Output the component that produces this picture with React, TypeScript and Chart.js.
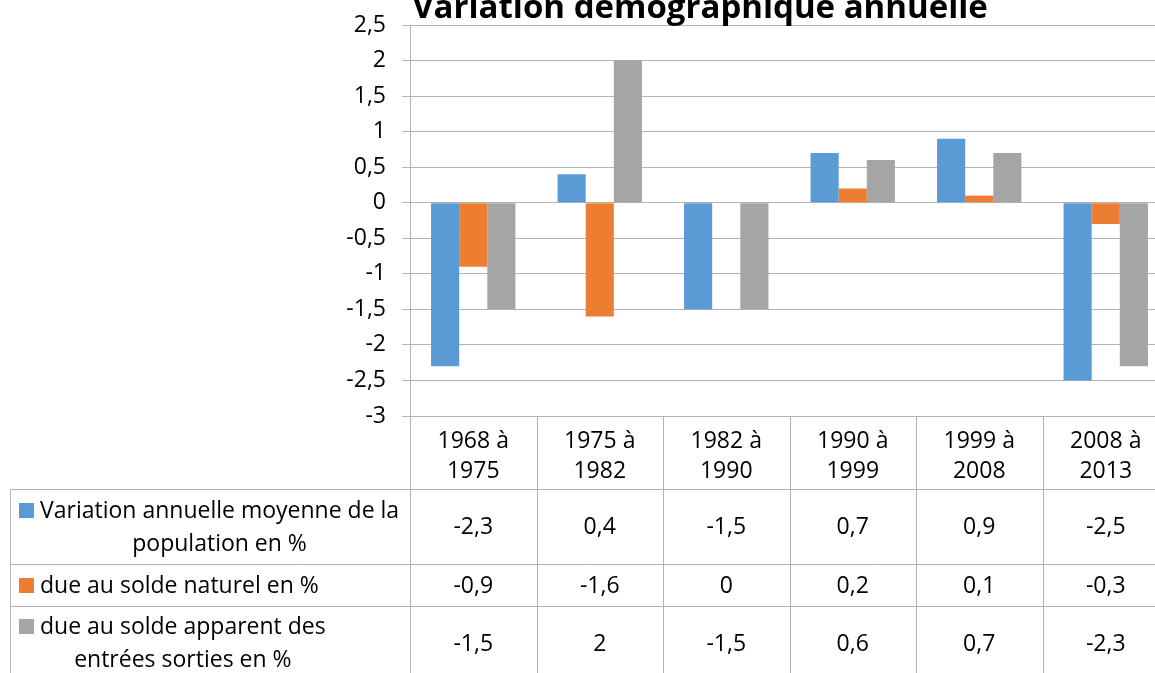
import React, { useEffect, useRef } from 'react';
import { Chart, registerables } from 'chart.js';

Chart.register(...registerables);

// ---------- data ----------
const chartTitle = 'Variation démographique annuelle';
const categories: string[][] = [
  ['1968 à', '1975'],
  ['1975 à', '1982'],
  ['1982 à', '1990'],
  ['1990 à', '1999'],
  ['1999 à', '2008'],
  ['2008 à', '2013'],
];
const seriesLabels: string[][] = [
  ['Variation annuelle moyenne de la', 'population en %'],
  ['due au solde naturel en %'],
  ['due au solde apparent des', 'entrées sorties en %'],
];
const variationAnnuelle = [-2.3, 0.4, -1.5, 0.7, 0.9, -2.5];
const soldeNaturel = [-0.9, -1.6, 0, 0.2, 0.1, -0.3];
const soldeApparent = [-1.5, 2, -1.5, 0.6, 0.7, -2.3];
const seriesColors = ['#5B9BD5', '#ED7D31', '#A5A5A5'];
const yMin = -3;
const yMax = 2.5;
const yStep = 0.5;

// ---------- layout ----------
const CANVAS_W = 1180;
const CANVAS_H = 702;
const OFFSET_Y = 20;
const FONT = '"Open Sans", Lato, sans-serif';
const FONT_SIZE = 23;
const LINE_COLOR = '#b3b3b3';
const TABLE_LEFT = 10;
const ROW_EDGES = [509, 584, 626, 700];
const LABEL_X = 40;
const LINE_GAP = 33;

const fmt = (v: number) => String(v).replace('.', ',');

const tablePlugin = {
  id: 'dataTable',
  afterDraw(chart: any) {
    const ctx = chart.ctx as CanvasRenderingContext2D;
    const area = chart.chartArea;
    const xs = chart.scales.x;
    const n = categories.length;
    const catW = (area.right - area.left) / n;
    ctx.save();

    // title
    ctx.fillStyle = '#000';
    ctx.font = `bold 33px ${FONT}`;
    ctx.textAlign = 'center';
    ctx.textBaseline = 'alphabetic';
    ctx.fillText(chartTitle, 700, 38);

    // lines
    ctx.strokeStyle = LINE_COLOR;
    ctx.lineWidth = 1;
    ctx.beginPath();
    for (let i = 0; i <= n; i++) {
      const x = Math.round(area.left + i * catW) + 0.5;
      ctx.moveTo(x, area.bottom);
      ctx.lineTo(x, ROW_EDGES[ROW_EDGES.length - 1]);
    }
    ROW_EDGES.forEach((y) => {
      ctx.moveTo(TABLE_LEFT, y + 0.5);
      ctx.lineTo(area.right, y + 0.5);
    });
    ctx.moveTo(TABLE_LEFT + 0.5, ROW_EDGES[0]);
    ctx.lineTo(TABLE_LEFT + 0.5, ROW_EDGES[ROW_EDGES.length - 1]);
    ctx.stroke();

    // rows
    ctx.font = `${FONT_SIZE}px ${FONT}`;
    ctx.textBaseline = 'middle';
    chart.data.datasets.forEach((ds: any, r: number) => {
      const top = ROW_EDGES[r];
      const bottom = ROW_EDGES[r + 1];
      const center = (top + bottom) / 2;
      const lines = seriesLabels[r];
      const firstY = center - ((lines.length - 1) * LINE_GAP) / 2;
      // legend key
      ctx.fillStyle = ds.backgroundColor;
      ctx.fillRect(19, Math.round(firstY - 7.5), 15, 15);
      // label
      ctx.fillStyle = '#000';
      const maxW = Math.max(...lines.map((l) => ctx.measureText(l).width));
      ctx.textAlign = 'center';
      lines.forEach((l, k) => {
        ctx.fillText(l, LABEL_X + maxW / 2, firstY + k * LINE_GAP + 1);
      });
      // values
      ds.data.forEach((v: number, i: number) => {
        ctx.fillText(fmt(v), xs.getPixelForValue(i), center + 1);
      });
    });
    ctx.restore();
  },
};

export default function App() {
  const ref = useRef<HTMLCanvasElement | null>(null);

  useEffect(() => {
    if (!ref.current) return;
    const chart = new Chart(ref.current, {
      type: 'bar',
      data: {
        labels: categories,
        datasets: [
          { label: seriesLabels[0].join(' '), data: variationAnnuelle, backgroundColor: seriesColors[0] },
          { label: seriesLabels[1].join(' '), data: soldeNaturel, backgroundColor: seriesColors[1] },
          { label: seriesLabels[2].join(' '), data: soldeApparent, backgroundColor: seriesColors[2] },
        ],
      },
      options: {
        responsive: false,
        animation: false,
        devicePixelRatio: 1,
        layout: { padding: { top: 45, right: 11, bottom: 0, left: 0 } },
        datasets: { bar: { categoryPercentage: 0.667, barPercentage: 1, borderWidth: 0 } },
        plugins: { legend: { display: false }, title: { display: false }, tooltip: { enabled: false } },
        scales: {
          y: {
            min: yMin,
            max: yMax,
            ticks: {
              stepSize: yStep,
              color: '#000',
              padding: 16,
              font: { family: FONT, size: FONT_SIZE },
              callback: (v: any) => fmt(Number(v)),
            },
            grid: { color: LINE_COLOR, tickLength: 8, drawTicks: true },
            border: { display: true, color: LINE_COLOR },
            afterFit: (s: any) => { s.width = 410; },
          },
          x: {
            grid: { display: false },
            border: { display: false },
            ticks: {
              color: '#000',
              padding: 2,
              maxRotation: 0,
              autoSkip: false,
              font: { family: FONT, size: FONT_SIZE, lineHeight: 30.5 / FONT_SIZE },
            },
            afterFit: (s: any) => { s.height = CANVAS_H - 436; },
          },
        },
      },
      plugins: [tablePlugin],
    });
    return () => chart.destroy();
  }, []);

  return (
    <div style={{ position: 'fixed', left: 0, top: 0, width: 1155, height: 673, overflow: 'hidden', background: '#fff' }}>
      <canvas
        ref={ref}
        width={CANVAS_W}
        height={CANVAS_H}
        style={{ position: 'absolute', left: 0, top: -OFFSET_Y, width: CANVAS_W, height: CANVAS_H }}
      />
    </div>
  );
}
